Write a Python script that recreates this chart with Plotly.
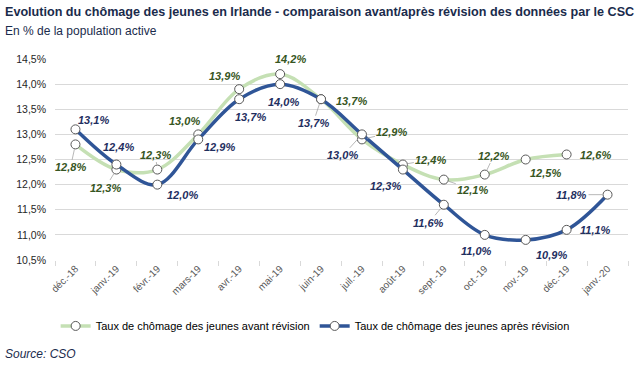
import plotly.graph_objects as go

categories = ["déc.-18", "janv.-19", "févr.-19", "mars-19", "avr.-19", "mai-19", "juin-19",
              "juil.-19", "août-19", "sept.-19", "oct.-19", "nov.-19", "déc.-19", "janv.-20"]
avant = [12.8, 12.3, 12.3, 13.0, 13.9, 14.2, 13.7, 12.9, 12.4, 12.1, 12.2, 12.5, 12.6, None]
apres = [13.1, 12.4, 12.0, 12.9, 13.7, 14.0, 13.7, 13.0, 12.3, 11.6, 11.0, 10.9, 11.1, 11.8]
y_ticks = [10.5, 11.0, 11.5, 12.0, 12.5, 13.0, 13.5, 14.0, 14.5]

# label placement (pixel offsets from the point) and leader-line flags
avant_dx = [-5, -11, -2, -14, -15, 10, 30, 30, 28, 29, 9, 20, 29]
avant_dy = [23, 18, -15, -13, -13, -15, 2, -7, -5, 10, -19, 13, 1]
avant_lead = [1, 1, 1, 0, 0, 0, 0, 1, 1, 1, 1, 0, 0]
apres_dx = [18, 2, 25, 21, 11, 3, -8, -19, -17, -15, -8, 26, 29, -36]
apres_dy = [-9, -18, 10, 8, 18, 18, 24, 21, 16, 18, 16, 15, 0, 0]
apres_lead = [0, 0, 0, 0, 0, 0, 1, 1, 0, 1, 0, 0, 0, 1]


def fmt(v, dec=1):
    return f"{v:.{dec}f}%".replace(".", ",")


LABEL_FONT = "Liberation Sans, Arial, sans-serif"
MAIN_FONT = "Liberation Sans, Arial, sans-serif"

fig = go.Figure()
fig.add_trace(go.Scatter(
    x=categories, y=avant, name="Taux de chômage des jeunes avant révision",
    mode="lines+markers", line=dict(color="#c5e0b4", width=3.5, shape="spline", smoothing=1),
    marker=dict(symbol="circle", size=9, color="white", line=dict(color="#595959", width=1)),
    connectgaps=False, cliponaxis=False,
))
fig.add_trace(go.Scatter(
    x=categories, y=apres, name="Taux de chômage des jeunes après révision",
    mode="lines+markers", line=dict(color="#2f5597", width=3.5, shape="spline", smoothing=1),
    marker=dict(symbol="circle", size=9, color="white", line=dict(color="#595959", width=1)),
    cliponaxis=False,
))

annotations = []


def add_labels(values, dxs, dys, leads, color):
    for i, v in enumerate(values):
        if v is None:
            continue
        lead = bool(leads[i])
        annotations.append(dict(
            x=categories[i], y=v, xref="x", yref="y", text=f"<b><i>{fmt(v)}</i></b>",
            showarrow=True, ax=dxs[i], ay=dys[i], axref="pixel", ayref="pixel",
            arrowhead=0, arrowwidth=0.8 if lead else 0.1,
            arrowcolor="#a6a6a6" if lead else "rgba(0,0,0,0)", standoff=5,
            font=dict(family=LABEL_FONT, size=11, color=color),
        ))


add_labels(avant, avant_dx, avant_dy, avant_lead, "#375623")
add_labels(apres, apres_dx, apres_dy, apres_lead, "#1f2f5f")

annotations += [
    dict(text="<b>Evolution du chômage des jeunes en Irlande - comparaison avant/après révision des données par le CSC</b>",
         xref="paper", yref="paper", x=-0.0908, y=1.234, xanchor="left", yanchor="middle",
         showarrow=False, font=dict(size=12.6, color="#1a2b4c", family=MAIN_FONT)),
    dict(text="En % de la population active", xref="paper", yref="paper",
         x=-0.0908, y=1.139, xanchor="left", yanchor="middle", showarrow=False,
         font=dict(size=12, color="#1a2b4c", family=MAIN_FONT)),
    dict(text="<i>Source: CSO</i>", xref="paper", yref="paper",
         x=-0.0908, y=-0.468, xanchor="left", yanchor="middle", showarrow=False,
         font=dict(size=12, color="#1a2b4c", family=MAIN_FONT)),
]

fig.update_layout(
    width=642, height=367,
    margin=dict(l=55, r=14, t=59, b=107, autoexpand=False),
    paper_bgcolor="white", plot_bgcolor="white",
    font=dict(family=MAIN_FONT, color="#404040"),
    showlegend=True,
    legend=dict(orientation="h", x=0.454, xanchor="center", y=-0.328, yanchor="middle",
                font=dict(size=11, color="#000000"), itemwidth=30, tracegroupgap=0),
    xaxis=dict(type="category", range=[-0.5, 13.5], showgrid=False, showline=False,
               ticks="outside", tickson="boundaries", ticklen=5, tickcolor="#d9d9d9",
               tickangle=-45, tickfont=dict(size=10, color="#595959"), automargin=False),
    yaxis=dict(range=[10.5, 14.5], tickvals=y_ticks, ticktext=[fmt(v) for v in y_ticks],
               showgrid=True, gridcolor="#d9d9d9", gridwidth=1, zeroline=False,
               tickfont=dict(size=10.5, color="#262626"), ticklabelstandoff=8, automargin=False),
    annotations=annotations,
)

fig.write_html("out.html", config={"displayModeBar": False},
               post_script="document.body.style.margin='0';document.body.style.overflow='hidden';")
